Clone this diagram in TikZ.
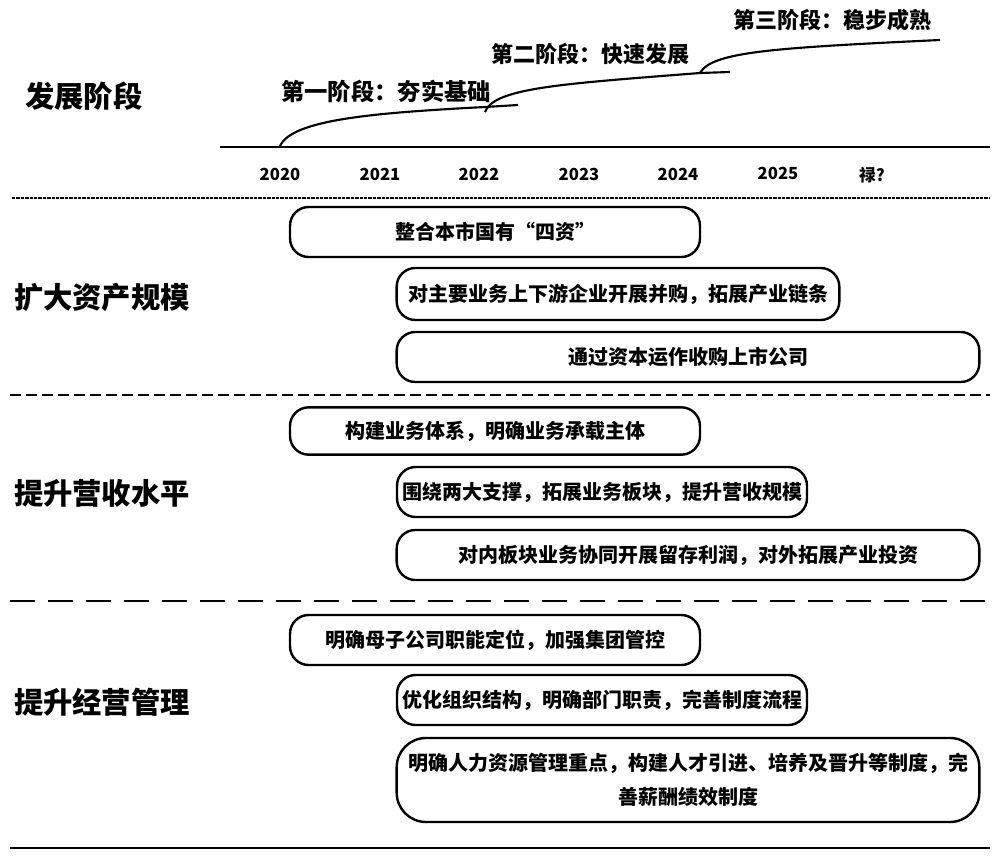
\documentclass[tikz,border=0pt]{standalone}
\usepackage{fontspec}
\newfontfamily\cjk{Noto Sans CJK SC}
\usetikzlibrary{positioning}

\begin{document}
\begin{tikzpicture}[
    x=0.75pt, y=-0.75pt,
    phase/.style={font=\cjk\bfseries\fontsize{22}{26}\selectfont},
    stage/.style={font=\cjk\bfseries\fontsize{16.5}{19}\selectfont},
    year/.style={font=\cjk\bfseries\fontsize{12.5}{15}\selectfont, inner sep=0pt},
    task/.style={draw, line width=1.8pt, rounded corners=14pt, inner sep=0pt, align=center, font=\cjk\bfseries\fontsize{15}{25}\selectfont},
    curve/.style={line width=1.6pt},
    sep/.style={line width=2pt}
  ]
  \useasboundingbox (0,0) rectangle (997,860);

  % stage axis
  \coordinate (axl) at (220,147);
  \coordinate (axr) at (990,147);
  \draw[line width=1.8pt] (axl) -- (axr);
  \draw[curve] (280,146) .. controls (292,120) and (370,113) .. (485,107) -- (518,105);
  \draw[curve] (485,112) .. controls (494,88) and (560,84) .. (700,73) -- (730,72);
  \draw[curve] (700,73) .. controls (712,52) and (770,48) .. (940,40);

  \node[phase] (fz) at (84,96) {发展阶段};
  \node[stage, font=\cjk\bfseries\fontsize{17.5}{21}\selectfont] (s1) at (386,92) {第一阶段：夯实基础};
  \node[stage] (s2) at (590,54) {第二阶段：快速发展};
  \node[stage] (s3) at (832,20) {第三阶段：稳步成熟};

  \coordinate (t0) at (280,147);
  \coordinate (t1) at (380,147);
  \coordinate (t2) at (479,147);
  \coordinate (t3) at (579,147);
  \coordinate (t4) at (678,147);
  \coordinate (t5) at (778,147);
  \coordinate (t6) at (872,147);
  \node[year, below=16pt of t0] (y0) {2020};
  \node[year, below=16pt of t1] (y1) {2021};
  \node[year, below=16pt of t2] (y2) {2022};
  \node[year, below=16pt of t3] (y3) {2023};
  \node[year, below=16pt of t4] (y4) {2024};
  \node[year, below=15pt of t5] (y5) {2025};
  \node[year, below=15pt of t6] (y6) {禄?};

  % separators
  \draw[sep, line width=1.5pt, dash pattern=on 2.5pt off 0.8pt] (12,198) -- (990,198);
  \draw[sep, dash pattern=on 8pt off 4pt] (10,395) -- (990,395);
  \draw[sep, dash pattern=on 19pt off 9.5pt] (10,601) -- (990,601);
  \draw[sep] (10,848) -- (990,848);

  % asset scale
  \node[phase] (zc) at (102,297) {扩大资产规模};
  \node[task, minimum width=307.5pt, minimum height=37.5pt] (zc1) at (495,232) {整合本市国有“四资”};
  \node[task, minimum width=332pt, minimum height=39pt] (zc2) at (618,294) {对主要业务上下游企业开展并购，拓展产业链条};
  \node[task, minimum width=437pt, minimum height=37.5pt] (zc3) at (688,357) {通过资本运作收购上市公司};

  % revenue
  \node[phase] (ys) at (102,493) {提升营收水平};
  \node[task, minimum width=307.5pt, minimum height=35.5pt] (ys1) at (495,431) {构建业务体系，明确业务承载主体};
  \node[task, minimum width=307.5pt, minimum height=37.5pt] (ys2) at (602,492) {围绕两大支撑，拓展业务板块，提升营收规模};
  \node[task, minimum width=437pt, minimum height=37.5pt] (ys3) at (688,555) {对内板块业务协同开展留存利润，对外拓展产业投资};

  % management
  \node[phase] (jy) at (102,702) {提升经营管理};
  \node[task, minimum width=307.5pt, minimum height=37.5pt] (jy1) at (495,640) {明确母子公司职能定位，加强集团管控};
  \node[task, minimum width=307.5pt, minimum height=37.5pt] (jy2) at (602,700) {优化组织结构，明确部门职责，完善制度流程};
  \node[task, rounded corners=22pt, minimum width=437pt, minimum height=63pt] (jy3) at (688,780) {明确人力资源管理重点，构建人才引进、培养及晋升等制度，完\\善薪酬绩效制度};
\end{tikzpicture}
\end{document}
